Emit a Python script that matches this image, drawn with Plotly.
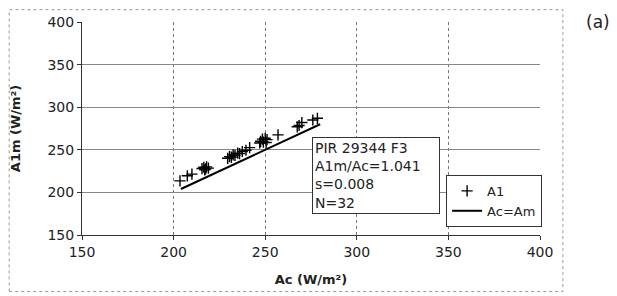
import plotly.graph_objects as go

# Measured data (Ac vs A1m), W/m²
ac = [203.5, 207.5, 210.0, 215.5, 216.5, 217.5, 218.0, 219.0, 229.5, 230.5,
      231.5, 232.5, 233.5, 235.0, 236.0, 237.5, 241.5, 247.0, 247.5, 248.5,
      249.0, 250.0, 251.0, 250.5, 257.0, 267.5, 268.5, 270.0, 276.0, 278.5,
      239.5, 217.0]
a1m = [213.5, 219.5, 221.5, 228.0, 229.5, 227.5, 230.0, 228.5, 240.0, 242.0,
       241.5, 244.0, 243.5, 246.0, 245.5, 248.0, 252.5, 258.0, 260.0, 262.5,
       259.0, 263.5, 262.0, 258.5, 267.5, 277.0, 278.5, 282.0, 285.0, 287.0,
       249.5, 226.5]

# 1:1 reference line
line_x = [204, 280]
line_y = [204, 280]

x_ticks = [150, 200, 250, 300, 350, 400]
y_ticks = [150, 200, 250, 300, 350, 400]

stats_text = "PIR 29344 F3<br>A1m/Ac=1.041<br>s=0.008<br>N=32"

FONT = "DejaVu Sans, Verdana, sans-serif"

fig = go.Figure()
fig.add_trace(go.Scatter(
    x=ac, y=a1m, mode="markers", name="A1",
    marker=dict(symbol="cross-thin-open", size=8, color="black",
                line=dict(color="black", width=1.4)),
))
fig.add_trace(go.Scatter(
    x=line_x, y=line_y, mode="lines", name="Ac=Am",
    line=dict(color="black", width=2),
))

# The page adds an 8px body margin, so the figure is sized/margined to compensate.
fig.update_layout(
    width=609, height=288,
    margin=dict(l=74, r=77, t=14, b=61, autoexpand=False),
    paper_bgcolor="white", plot_bgcolor="white",
    font=dict(family=FONT, size=14, color="#222"),
    showlegend=True,
    legend=dict(
        x=0.795, y=0.282, xanchor="left", yanchor="top",
        bordercolor="#333", borderwidth=1, bgcolor="white",
        font=dict(size=13, color="#222"),
        itemwidth=30, tracegroupgap=0,
    ),
)

fig.update_xaxes(
    range=[150, 400], tickvals=x_ticks, ticktext=[str(v) for v in x_ticks],
    showgrid=True, gridcolor="#777", griddash="dot", gridwidth=1,
    showline=True, linecolor="#333", linewidth=1,
    ticks="outside", ticklen=4, tickcolor="#333",
    zeroline=False, automargin=False,
    title=dict(text="<b>Ac (W/m²)</b>", font=dict(size=13, color="#222"), standoff=16),
)
fig.update_yaxes(
    range=[150, 400], tickvals=y_ticks, ticktext=[str(v) for v in y_ticks],
    showgrid=True, gridcolor="#888", gridwidth=1,
    showline=True, linecolor="#333", linewidth=1,
    ticks="outside", ticklen=4, tickcolor="#333",
    zeroline=False, automargin=False,
    title=dict(text="<b>A1m (W/m²)</b>", font=dict(size=13, color="#222"), standoff=23),
)

# stats text box
fig.add_annotation(
    x=0.502, y=0.46, xref="paper", yref="paper", xanchor="left", yanchor="top",
    text=stats_text, showarrow=False, align="left", width=122,
    font=dict(size=14, color="#222", family=FONT),
    bordercolor="#333", borderwidth=1, borderpad=2, bgcolor="white",
)

# panel label
fig.add_annotation(
    x=1.127, y=1.0, xref="paper", yref="paper", xanchor="center", yanchor="middle",
    text="(a)", showarrow=False, font=dict(size=17, color="#222", family=FONT),
)

# outer chart frame
fig.add_shape(
    type="rect", xref="paper", yref="paper",
    x0=-0.159, x1=1.050, y0=-0.265, y1=1.058,
    line=dict(color="#999", width=1, dash="dot"), layer="below",
)

fig.write_html("out.html")
